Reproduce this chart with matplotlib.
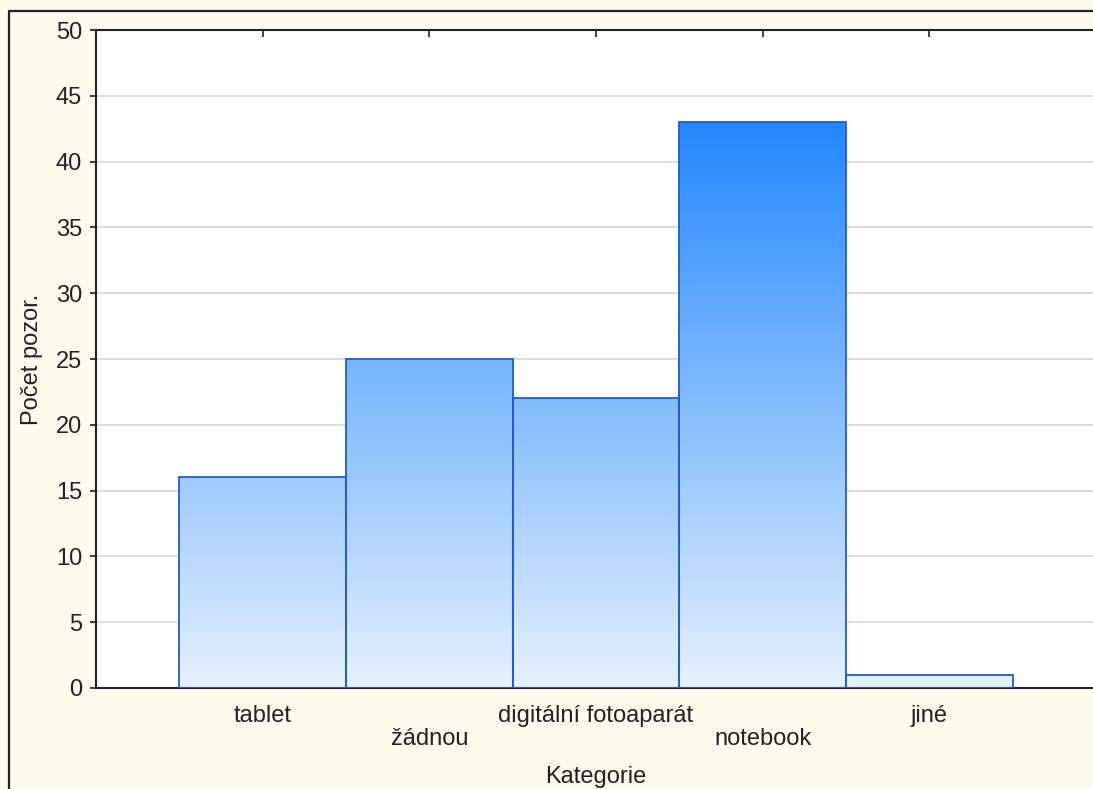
import matplotlib
matplotlib.use("Agg")
import matplotlib.pyplot as plt
import numpy as np
from matplotlib.patches import Rectangle
from matplotlib.lines import Line2D
from matplotlib.colors import LinearSegmentedColormap

categories = ["tablet", "žádnou", "digitální fotoaparát", "notebook", "jiné"]
counts = [16, 25, 22, 43, 1]
y_ticks = [0, 5, 10, 15, 20, 25, 30, 35, 40, 45, 50]

plt.rcParams['font.family'] = ['Liberation Sans', 'DejaVu Sans']

W, H = 1093, 789
fig = plt.figure(figsize=(W / 100, H / 100), dpi=100)
fig.patch.set_facecolor('#FFF9EE')

# outer frame: only the top and left edges are inside the picture
fx, fy = 9 / W, 1 - 11 / H
fig.add_artist(Line2D([fx, fx, 1.0], [0.0, fy, fy], transform=fig.transFigure,
                      color='#222222', linewidth=1.6))

left, right, top, bottom = 96, 1096, 30, 688
ax = fig.add_axes([left / W, 1 - bottom / H, (right - left) / W, (bottom - top) / H])
ax.set_facecolor('white')

x = np.arange(len(categories))
cmap = LinearSegmentedColormap.from_list('g', ['#E6F1FD', '#2288FF'])
vmax = max(counts)
grad = np.linspace(0, 1, 256).reshape(-1, 1)
for xi, v in zip(x, counts):
    im = ax.imshow(grad, cmap=cmap, origin='lower', aspect='auto',
                   extent=(xi - 0.5, xi + 0.5, 0, vmax), zorder=2, interpolation='bilinear')
    rect = Rectangle((xi - 0.5, 0), 1, v, facecolor='none', edgecolor='#1F5BD6',
                     linewidth=1.3, zorder=3)
    ax.add_patch(rect)
    im.set_clip_path(rect)
ax.set_xlim(-1, len(categories))
ax.set_ylim(0, 50)

ax.set_yticks(y_ticks)
ax.set_yticklabels([str(t) for t in y_ticks], fontsize=17)
for t in y_ticks[1:-1]:
    ax.axhline(t, color='#DADADA', linewidth=1.3, zorder=1)

ax.set_xticks(x)
labs = ax.set_xticklabels([c if i % 2 == 0 else "\n" + c for i, c in enumerate(categories)],
                          fontsize=17, color='#222222')
for lab in labs:
    lab.set_linespacing(1.05)
ax.tick_params(axis='x', direction='in', length=5, width=1.2, top=True, pad=12, colors='#222222')
ax.tick_params(axis='y', direction='out', length=4, width=1.2, right=False, pad=6, colors='#222222')

for s in ax.spines.values():
    s.set_linewidth(1.5)
    s.set_color('#222222')
ax.spines['right'].set_visible(False)

ax.set_xlabel("Kategorie", fontsize=17, color='#222222', labelpad=12)
ax.set_ylabel("Počet pozor.", fontsize=17, color='#222222', labelpad=9)

fig.savefig("out.png", dpi=100, facecolor=fig.get_facecolor())
